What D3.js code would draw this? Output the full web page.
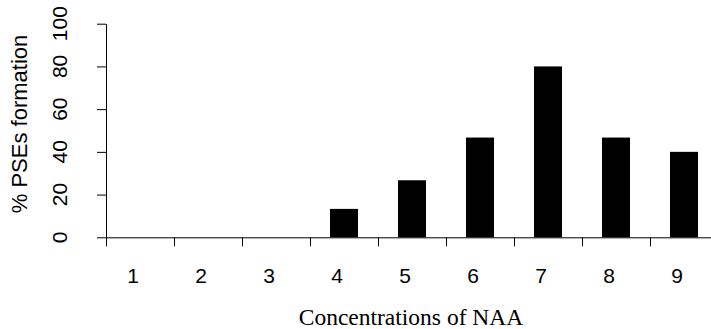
<!DOCTYPE html>
<html>
<head>
<meta charset="utf-8">
<script src="https://cdn.jsdelivr.net/npm/d3@7"></script>
<style>
  body { margin: 0; background: #fff; }
  text { font-family: "Liberation Sans", Arial, sans-serif; fill: #000; }
</style>
</head>
<body>
<div id="chart"></div>
<script>
// concentrations and % formation
var categories = ["1", "2", "3", "4", "5", "6", "7", "8", "9"];
var values = [0, 0, 0, 13.3, 26.7, 46.7, 80, 46.7, 40];
var yTicks = [0, 20, 40, 60, 80, 100];

var w = 711, h = 329;
var plotLeft = 106, plotRight = 718, plotTop = 23.7, plotBottom = 237.3;

var svg = d3.select("#chart")
  .append("svg")
    .attr("width", w)
    .attr("height", h);

svg.append("rect")
  .attr("width", w)
  .attr("height", h)
  .attr("fill", "white");

var xScale = d3.scaleBand()
  .domain(categories)
  .range([plotLeft, plotRight])
  .paddingInner(40 / 68)
  .paddingOuter(20 / 68);

// boundaries between bars, used for the tick marks
var xEdge = d3.scaleLinear()
  .domain([0, categories.length])
  .range([plotLeft, plotRight]);

var yScale = d3.scaleLinear()
  .domain([0, 100])
  .range([plotBottom, plotTop]);

// bars
svg.append("g")
  .selectAll("rect")
  .data(values)
  .enter()
  .append("rect")
    .attr("x", (d, i) => xScale(categories[i]))
    .attr("y", d => yScale(d))
    .attr("width", xScale.bandwidth())
    .attr("height", d => yScale(0) - yScale(d))
    .attr("fill", "#000");

// x axis
var xAxis = d3.axisBottom(xEdge)
  .tickValues(d3.range(0, categories.length + 1))
  .tickFormat("")
  .tickSizeInner(9)
  .tickSizeOuter(0);

var gx = svg.append("g")
  .attr("transform", `translate(0, ${plotBottom})`)
  .call(xAxis);
gx.selectAll("path, line").attr("stroke", "#000").attr("stroke-width", 1);

svg.append("g")
  .selectAll("text")
  .data(categories)
  .enter()
  .append("text")
    .attr("x", d => xScale(d) + xScale.bandwidth() / 2 - 7)
    .attr("y", 283)
    .attr("text-anchor", "middle")
    .style("font-size", "21px")
    .text(d => d);

// y axis
var yAxis = d3.axisLeft(yScale)
  .tickValues(yTicks)
  .tickFormat("")
  .tickSizeInner(9)
  .tickSizeOuter(0);

var gy = svg.append("g")
  .attr("transform", `translate(${plotLeft}, 0)`)
  .call(yAxis);
gy.selectAll("path, line").attr("stroke", "#000").attr("stroke-width", 1);

svg.append("g")
  .selectAll("text")
  .data(yTicks)
  .enter()
  .append("text")
    .attr("transform", d => `translate(67, ${yScale(d)}) rotate(-90)`)
    .attr("text-anchor", "middle")
    .style("font-size", "21px")
    .text(d => d);

// axis titles
svg.append("text")
  .attr("transform", "translate(27, 124) rotate(-90)")
  .attr("text-anchor", "middle")
  .style("font-size", "22px")
  .text("% PSEs formation");

svg.append("text")
  .attr("x", 411)
  .attr("y", 325)
  .attr("text-anchor", "middle")
  .style("font-family", "'Liberation Serif', 'Times New Roman', serif")
  .style("font-size", "23.5px")
  .text("Concentrations of NAA");
</script>
</body>
</html>
